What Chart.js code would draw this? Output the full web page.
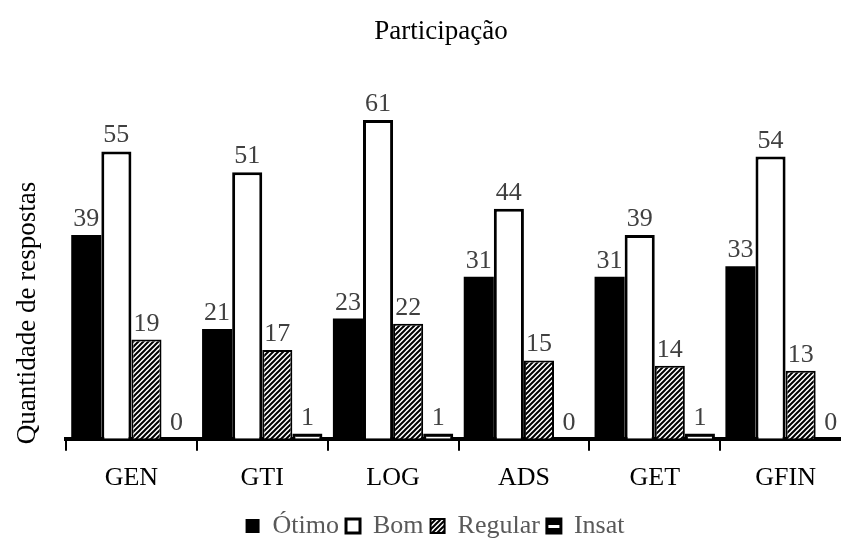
<!DOCTYPE html>
<html>
<head>
<meta charset="utf-8">
<script src="https://cdn.jsdelivr.net/npm/chart.js@4/dist/chart.umd.min.js"></script>
<style>
  html, body { margin: 0; padding: 0; background: #fff; overflow: hidden; }
  #wrap { width: 841px; height: 541px; overflow: hidden; }
  canvas { display: block; }
</style>
</head>
<body>
<div id="wrap"><canvas id="c" width="860" height="549"></canvas></div>
<script>
// Survey answers per course
const cursos = ['GEN', 'GTI', 'LOG', 'ADS', 'GET', 'GFIN'];
const otimo   = [39, 21, 23, 31, 31, 33];
const bom     = [55, 51, 61, 44, 39, 54];
const regular = [19, 17, 22, 15, 14, 13];
const insat   = [0, 1, 1, 0, 1, 0];

const chartTitle = 'Participação';
const yTitle = 'Quantidade de respostas';
const FONT = '"Liberation Serif", "Times New Roman", serif';

// diagonal hatch for "Regular"
function diagonalPattern() {
  const s = 5;
  const c = document.createElement('canvas');
  c.width = s; c.height = s;
  const g = c.getContext('2d');
  g.fillStyle = '#fff';
  g.fillRect(0, 0, s, s);
  g.strokeStyle = '#000';
  g.lineWidth = 2;
  g.beginPath();
  g.moveTo(-1, s + 1); g.lineTo(s + 1, -1);
  g.moveTo(-1, 1); g.lineTo(1, -1);
  g.moveTo(s - 1, s + 1); g.lineTo(s + 1, s - 1);
  g.stroke();
  return g.createPattern(c, 'repeat');
}

// horizontal bands for "Insat"
function horizontalPattern() {
  const c = document.createElement('canvas');
  c.width = 4; c.height = 8;
  const g = c.getContext('2d');
  g.fillStyle = '#000';
  g.fillRect(0, 0, 4, 8);
  g.fillStyle = '#fff';
  g.fillRect(0, 5, 4, 3);
  return g.createPattern(c, 'repeat');
}

const valueLabels = {
  id: 'valueLabels',
  afterDatasetsDraw(chart) {
    const ctx = chart.ctx;
    ctx.save();
    ctx.font = '26px ' + FONT;
    ctx.fillStyle = '#404040';
    ctx.textAlign = 'center';
    ctx.textBaseline = 'alphabetic';
    chart.data.datasets.forEach((ds, i) => {
      const meta = chart.getDatasetMeta(i);
      meta.data.forEach((bar, j) => {
        ctx.fillText(String(ds.data[j]), bar.x, bar.y - 9);
      });
    });
    ctx.restore();
  }
};

const titles = {
  id: 'titles',
  afterDraw(chart) {
    const ctx = chart.ctx;
    ctx.save();
    ctx.fillStyle = '#000';
    ctx.textAlign = 'center';
    ctx.textBaseline = 'middle';
    ctx.font = '27px ' + FONT;
    ctx.fillText(chartTitle, 441, 32);
    ctx.translate(28, 313);
    ctx.rotate(-Math.PI / 2);
    ctx.fillText(yTitle, 0, 0);
    ctx.restore();
  }
};

new Chart(document.getElementById('c'), {
  type: 'bar',
  data: {
    labels: cursos,
    datasets: [
      { label: 'Ótimo', data: otimo, backgroundColor: '#000', borderColor: '#000', borderWidth: 0 },
      { label: 'Bom', data: bom, backgroundColor: '#fff', borderColor: '#000', borderWidth: 3 },
      { label: 'Regular', data: regular, backgroundColor: diagonalPattern(), borderColor: '#000', borderWidth: 2 },
      { label: 'Insat', data: insat, backgroundColor: horizontalPattern(), borderColor: '#000', borderWidth: 3 }
    ]
  },
  options: {
    responsive: false,
    animation: false,
    devicePixelRatio: 1,
    layout: { padding: { left: 19, right: 9, top: 73, bottom: 0 } },
    datasets: { bar: { categoryPercentage: 0.92, barPercentage: 1.0, borderSkipped: 'bottom' } },
    scales: {
      x: {
        grid: { display: true, drawOnChartArea: false, drawTicks: true, tickLength: 12, color: '#000', lineWidth: 2, offset: true },
        border: { display: true, color: '#000', width: 4 },
        ticks: { color: '#000', font: { family: FONT, size: 26 }, padding: 12, maxRotation: 0 }
      },
      y: {
        min: 0, max: 70,
        grid: { display: false },
        border: { display: false },
        ticks: { display: false },
        afterFit(scale) { scale.width = 47; }
      }
    },
    plugins: {
      title: { display: false },
      tooltip: { enabled: false },
      legend: {
        position: 'bottom',
        labels: { color: '#595959', font: { family: FONT, size: 26 }, boxWidth: 14, boxHeight: 14, padding: 7 }
      }
    }
  },
  plugins: [valueLabels, titles]
});
</script>
</body>
</html>
